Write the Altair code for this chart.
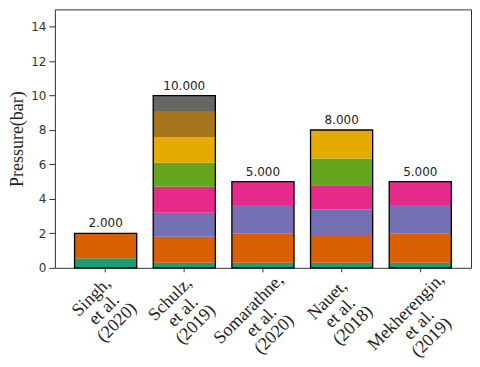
import altair as alt
import pandas as pd

studies = ["Singh,|et al.|(2020)", "Schulz,|et al.|(2019)", "Somarathne,|et al.|(2020)",
           "Nauet,|et al.|(2018)", "Mekherengin,|et al.|(2019)"]

# stacked segment values (bottom to top) for each study
singh = [0.55, 1.45]
schulz = [0.3, 1.5, 1.4, 1.5, 1.4, 1.5, 1.5, 0.9]
somarathne = [0.3, 1.7, 1.65, 1.35]
nauet = [0.3, 1.6, 1.5, 1.4, 1.55, 1.65]
mekherengin = [0.3, 1.7, 1.65, 1.35]
totals = [2.0, 10.0, 5.0, 8.0, 5.0]
y_ticks = [0, 2, 4, 6, 8, 10, 12, 14]

palette = ["#1b9e77", "#d95f02", "#7570b3", "#e7298a", "#66a61e", "#e6ab02", "#a6761d", "#666666"]

rows = []
for s, segs in zip(studies, [singh, schulz, somarathne, nauet, mekherengin]):
    for i, v in enumerate(segs):
        rows.append({"study": s, "layer": i, "value": v})
seg_df = pd.DataFrame(rows)
tot_df = pd.DataFrame({"study": studies, "total": totals})

# rotated multi-line labels: push longer blocks further down (top edges line up)
label_pad = [25, 27, 37, 28, 40]
pad_cond = {"condition": [{"test": f"datum.value == '{s}'", "value": p}
                          for s, p in zip(studies, label_pad)],
            "value": 28}

x_axis = alt.Axis(labelExpr="split(datum.value, '|')", labelAngle=315,
                  labelAlign="center", labelBaseline="middle", labelPadding=pad_cond,
                  labelOffset=-14,
                  labelFont="Liberation Serif", labelFontSize=18, labelColor="#222",
                  labelLineHeight=18, labelOverlap=False, labelBound=False,
                  domain=False, tickColor="#333", tickSize=4)
x_scale = alt.Scale(paddingInner=0.21, paddingOuter=0.25)

y_axis = alt.Axis(values=y_ticks, tickCount=8, grid=False, domain=False,
                  labelOverlap=False,
                  tickColor="#333", tickSize=6, labelFont="DejaVu Sans",
                  labelFontSize=12, labelColor="#333", labelPadding=3,
                  titleFont="Liberation Serif", titleFontSize=18,
                  titleFontWeight="normal", titleColor="#222", titlePadding=4)
y_scale = alt.Scale(domain=[0, 15], nice=False)

def xenc():
    return alt.X("study:N", sort=studies, title=None, scale=x_scale, axis=x_axis)

stack = alt.Chart(seg_df).mark_bar().encode(
    x=xenc(),
    y=alt.Y("value:Q", stack="zero", title="Pressure(bar)", scale=y_scale, axis=y_axis),
    color=alt.Color("layer:O", scale=alt.Scale(domain=list(range(8)), range=palette), legend=None),
    order=alt.Order("layer:Q", sort="ascending"),
)

outline = alt.Chart(tot_df).mark_bar(fillOpacity=0, stroke="black", strokeWidth=1.3).encode(
    x=xenc(),
    y=alt.Y("total:Q", title="Pressure(bar)", scale=y_scale, axis=y_axis),
)

labels = alt.Chart(tot_df).mark_text(font="DejaVu Sans", fontSize=12, color="#222",
                                     baseline="alphabetic", dy=-6).encode(
    x=xenc(),
    y=alt.Y("total:Q", title="Pressure(bar)", scale=y_scale, axis=y_axis),
    text=alt.Text("total:Q", format=".3f"),
)

chart = alt.layer(stack, outline, labels).properties(
    width=417, height=259,
    autosize=alt.AutoSizeParams(type="none"),
    padding={"left": 47, "top": 1, "right": 1, "bottom": 99},
).configure_view(stroke="#333", strokeWidth=1)

chart.save("out.html", embed_options={"renderer": "svg", "actions": False})
